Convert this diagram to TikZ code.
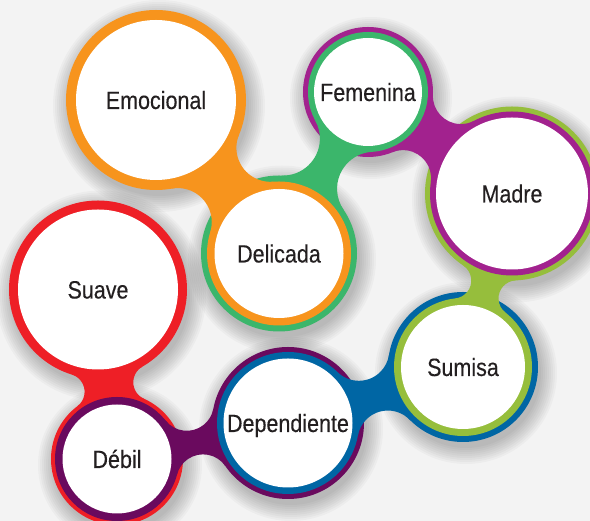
\documentclass[tikz,border=0pt]{standalone}
\usepackage{fontspec}
\newfontfamily\lblfont[FakeStretch=0.86,FakeBold=0.25]{Liberation Sans}
\definecolor{bg}{HTML}{F3F3F3}
\definecolor{txt}{HTML}{231F20}
\definecolor{cOrange}{HTML}{F7941D}
\definecolor{cGreen}{HTML}{3BB66B}
\definecolor{cMagenta}{HTML}{A2228E}
\definecolor{cOlive}{HTML}{96BE3C}
\definecolor{cBlue}{HTML}{0066A4}
\definecolor{cPlum}{HTML}{6A0A5E}
\definecolor{cRed}{HTML}{EE1F26}
% #1 colour, #2 fillet radius, #3 first coordinate, #4 its radius, #5 second coordinate, #6 its radius
\newcommand\neckfill[6]{%
  \pgfpointanchor{#3}{center}\pgfgetlastxy\NKxA\NKyA
  \pgfpointanchor{#5}{center}\pgfgetlastxy\NKxB\NKyB
  \pgfmathsetmacro\NKax{\NKxA/100}\pgfmathsetmacro\NKay{\NKyA/100}%
  \pgfmathsetmacro\NKbx{\NKxB/100}\pgfmathsetmacro\NKby{\NKyB/100}%
  \pgfmathsetmacro\NKs{#2/100}\pgfmathsetmacro\NKra{#4/100}\pgfmathsetmacro\NKrb{#6/100}%
  \pgfmathsetmacro\NKdx{\NKbx-\NKax}\pgfmathsetmacro\NKdy{\NKby-\NKay}%
  \pgfmathsetmacro\NKd{sqrt(\NKdx*\NKdx+\NKdy*\NKdy)}%
  \pgfmathsetmacro\NKux{\NKdx/\NKd}\pgfmathsetmacro\NKuy{\NKdy/\NKd}%
  \pgfmathsetmacro\NKa{\NKra+\NKs}\pgfmathsetmacro\NKb{\NKrb+\NKs}%
  \pgfmathsetmacro\NKxx{(\NKa*\NKa-\NKb*\NKb+\NKd*\NKd)/(2*\NKd)}%
  \pgfmathsetmacro\NKh{sqrt(\NKa*\NKa-\NKxx*\NKxx)}%
  \pgfmathsetmacro\NKqax{\NKax+\NKxx*\NKux-\NKh*\NKuy}\pgfmathsetmacro\NKqay{\NKay+\NKxx*\NKuy+\NKh*\NKux}%
  \pgfmathsetmacro\NKqbx{\NKax+\NKxx*\NKux+\NKh*\NKuy}\pgfmathsetmacro\NKqby{\NKay+\NKxx*\NKuy-\NKh*\NKux}%
  \pgfmathsetmacro\NKaA{atan2(\NKay-\NKqay,\NKax-\NKqax)}%
  \pgfmathsetmacro\NKaB{atan2(\NKby-\NKqay,\NKbx-\NKqax)}%
  \pgfmathsetmacro\NKdA{mod(\NKaB-\NKaA+540,360)-180}%
  \pgfmathsetmacro\NKbA{atan2(\NKby-\NKqby,\NKbx-\NKqbx)}%
  \pgfmathsetmacro\NKbB{atan2(\NKay-\NKqby,\NKax-\NKqbx)}%
  \pgfmathsetmacro\NKdB{mod(\NKbB-\NKbA+540,360)-180}%
  \fill[#1] (#3) circle[radius=#4] (#5) circle[radius=#6];
  \fill[#1] (#3) -- ({100*\NKqax+#2*cos(\NKaA)},{100*\NKqay+#2*sin(\NKaA)})
    arc[start angle=\NKaA, delta angle=\NKdA, radius=#2] -- (#5)
    -- ({100*\NKqbx+#2*cos(\NKbA)},{100*\NKqby+#2*sin(\NKbA)})
    arc[start angle=\NKbA, delta angle=\NKdB, radius=#2] -- cycle;
}
\begin{document}
\begin{tikzpicture}[x=1pt,y=1pt,
  lbl/.style={circle,fill=white,inner sep=0pt,text=txt,
    font=\lblfont\fontsize{25}{28}\selectfont,text height=18pt,text depth=0pt},
  shadowlayer/.style={fill=black,opacity=0.026}]
\fill[bg] (0,0) rectangle (590,521);
\useasboundingbox (0,0) rectangle (590,521);
% centres
\coordinate (emo) at (156,421);
\coordinate (deli) at (279,267.5);
\coordinate (feme) at (368,429);
\coordinate (madre) at (512,327.5);
\coordinate (sumi) at (463,154);
\coordinate (depe) at (288,98);
\coordinate (debil) at (117,62);
\coordinate (suave) at (98,231.5);
% soft shadows
\foreach \p/\r in {emo/90,deli/78,feme/65,madre/87,sumi/75,depe/76,debil/66,suave/89}{
  \foreach \k in {0,...,8}{
    \fill[shadowlayer] ([shift={(3,-6)}]\p) circle[radius=\r+2*\k];
  }
}
% links, lowest first
\neckfill{cRed}{18}{debil}{66}{suave}{89}
\neckfill{cPlum}{27}{depe}{76}{debil}{62}
\neckfill{cBlue}{30.5}{sumi}{75}{depe}{71}
\neckfill{cOlive}{18}{madre}{87}{sumi}{69}
\neckfill{cMagenta}{28}{feme}{65}{madre}{82}
\neckfill{cGreen}{37}{deli}{78}{feme}{60}
\neckfill{cOrange}{34}{emo}{90}{deli}{72}
% white discs with labels
\node[lbl,minimum size=160pt] (emoN) at (emo) {Emocional};
\node[lbl,minimum size=129pt] (deliN) at (deli) {Delicada};
\node[lbl,minimum size=108pt] (femeN) at (feme) {Femenina};
\node[lbl,minimum size=152pt] (madreN) at (madre) {Madre};
\node[lbl,minimum size=124pt] (sumiN) at (sumi) {Sumisa};
\node[lbl,minimum size=129pt] (depeN) at (depe) {Dependiente};
\node[lbl,minimum size=109pt] (debilN) at (debil) {Débil};
\node[lbl,minimum size=160pt] (suaveN) at (suave) {Suave};
\end{tikzpicture}
\end{document}
